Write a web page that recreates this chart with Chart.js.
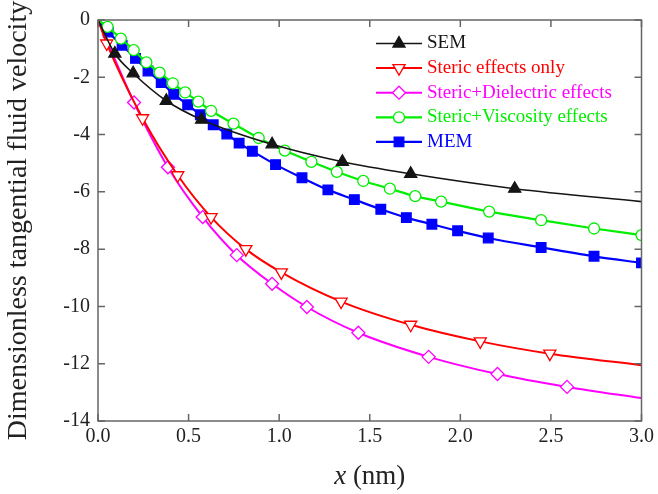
<!DOCTYPE html>
<html>
<head>
<meta charset="utf-8">
<script src="https://cdn.jsdelivr.net/npm/chart.js@4.4.1/dist/chart.umd.min.js"></script>
<style>
  html, body { margin: 0; padding: 0; background: #fff; }
  #wrap { width: 658px; height: 494px; }
</style>
</head>
<body>
<div id="wrap"><canvas id="chart" width="658" height="494"></canvas></div>
<script>
/* ---- data (x in nm, dimensionless velocity) ---- */
const semX = [0, 0.093, 0.194, 0.377, 0.572, 0.961, 1.349, 1.726, 2.300, 3.0];
const semY = [0, -1.17, -1.86, -2.82, -3.48, -4.34, -4.95, -5.37, -5.89, -6.34];

const stericX = [0, 0.048, 0.246, 0.440, 0.624, 0.816, 1.012, 1.342, 1.726, 2.110, 2.494, 3.0];
const stericY = [0, -0.82, -3.43, -5.42, -6.88, -8.00, -8.81, -9.83, -10.64, -11.22, -11.65, -12.05];

const dielX = [0, 0.199, 0.386, 0.578, 0.766, 0.961, 1.153, 1.437, 1.825, 2.205, 2.589, 3.0];
const dielY = [0, -2.88, -5.14, -6.88, -8.21, -9.21, -10.02, -10.92, -11.76, -12.36, -12.81, -13.20];

const viscX = [0, 0.053, 0.126, 0.197, 0.267, 0.340, 0.413, 0.481, 0.554, 0.624, 0.748, 0.887,
  1.031, 1.178, 1.318, 1.464, 1.611, 1.751, 1.894, 2.159, 2.446, 2.738, 3.0];
const viscY = [0, -0.24, -0.65, -1.05, -1.48, -1.84, -2.21, -2.53, -2.85, -3.17, -3.62, -4.12,
  -4.56, -4.95, -5.30, -5.62, -5.89, -6.15, -6.34, -6.69, -6.99, -7.28, -7.51];

const memX = [0, 0.056, 0.133, 0.207, 0.276, 0.349, 0.418, 0.495, 0.565, 0.636, 0.711, 0.779, 0.852,
  0.980, 1.126, 1.269, 1.415, 1.561, 1.702, 1.843, 1.985, 2.154, 2.446, 2.738, 3.0];
const memY = [0, -0.42, -0.88, -1.34, -1.78, -2.18, -2.59, -2.96, -3.31, -3.66, -3.98, -4.30, -4.58,
  -5.05, -5.51, -5.93, -6.27, -6.61, -6.90, -7.13, -7.36, -7.61, -7.94, -8.25, -8.48];

const xTicks = [0, 0.5, 1.0, 1.5, 2.0, 2.5, 3.0];
const yTicks = [0, -2, -4, -6, -8, -10, -12, -14];

const FONT = "'Liberation Serif', 'Times New Roman', serif";
Chart.defaults.font.family = FONT;

// series look: marker shape, fill and whether the last (x = 3) point carries a marker
const series = [
  { label: 'SEM', xs: semX, ys: semY, color: '#151515', fill: '#151515', style: 'triangle', rot: 0, r: 7, width: 1.6, endMark: false },
  { label: 'Steric effects only', xs: stericX, ys: stericY, color: '#ff0000', fill: '#ffffff', style: 'triangle', rot: 180, r: 7, width: 2, endMark: false },
  { label: 'Steric+Dielectric effects', xs: dielX, ys: dielY, color: '#ff00ff', fill: '#ffffff', style: 'rectRot', rot: 0, r: 6.5, width: 2, endMark: false },
  { label: 'Steric+Viscosity effects', xs: viscX, ys: viscY, color: '#00ee00', fill: '#ffffff', style: 'circle', rot: 0, r: 5.5, width: 2.2, endMark: true },
  { label: 'MEM', xs: memX, ys: memY, color: '#0000ff', fill: '#0000ff', style: 'rect', rot: 0, r: 6.8, width: 2.2, endMark: true },
];

function toPoints(xs, ys) { return xs.map((x, i) => ({ x, y: ys[i] })); }

function radii(s) {
  return s.xs.map((_, i) => (i === 0 || (!s.endMark && i === s.xs.length - 1)) ? 0 : s.r);
}

const datasets = series.map(s => ({
  label: s.label,
  data: toPoints(s.xs, s.ys),
  borderColor: s.color,
  borderWidth: s.width,
  pointStyle: s.style,
  pointRotation: s.rot,
  pointRadius: radii(s),
  pointBackgroundColor: s.fill,
  pointBorderColor: s.color,
  pointBorderWidth: 1.3,
  cubicInterpolationMode: 'monotone',
  clip: 0,
}));

// frame with inward ticks, legend with line+marker samples, mixed-style x title
const decorations = {
  id: 'decorations',
  afterDatasetsDraw(chart) {
    const { ctx, chartArea: a, scales: { x, y } } = chart;
    ctx.save();
    ctx.strokeStyle = '#666';
    ctx.lineWidth = 1.5;
    ctx.strokeRect(a.left, a.top, a.right - a.left, a.bottom - a.top);
    ctx.beginPath();
    xTicks.forEach(v => {
      const px = x.getPixelForValue(v);
      ctx.moveTo(px, a.bottom); ctx.lineTo(px, a.bottom - 7);
      ctx.moveTo(px, a.top); ctx.lineTo(px, a.top + 7);
    });
    yTicks.forEach(v => {
      const py = y.getPixelForValue(v);
      ctx.moveTo(a.left, py); ctx.lineTo(a.left + 7, py);
      ctx.moveTo(a.right, py); ctx.lineTo(a.right - 7, py);
    });
    ctx.stroke();
    ctx.restore();
  },
  afterDraw(chart) {
    const { ctx, chartArea: a } = chart;
    ctx.save();

    // legend
    let ly = 43.5;
    ctx.font = `19px ${FONT}`;
    ctx.textBaseline = 'middle';
    series.forEach(s => {
      ctx.strokeStyle = s.color;
      ctx.lineWidth = s.width;
      ctx.beginPath();
      ctx.moveTo(376, ly); ctx.lineTo(422, ly);
      ctx.stroke();
      ctx.fillStyle = s.fill;
      ctx.lineWidth = 1.3;
      Chart.helpers.drawPoint(ctx, { pointStyle: s.style, rotation: s.rot, radius: s.r, borderWidth: 1.3 }, 399, ly);
      ctx.fillStyle = s.color;
      ctx.fillText(s.label, 427, ly);
      ly += 24.6;
    });

    // x axis title: italic x + regular (nm)
    const cx = (a.left + a.right) / 2;
    ctx.fillStyle = '#222';
    ctx.textBaseline = 'alphabetic';
    ctx.font = `italic 27px ${FONT}`;
    const w1 = ctx.measureText('x').width;
    ctx.font = `27px ${FONT}`;
    const rest = ' (nm)';
    const w2 = ctx.measureText(rest).width;
    const x0 = cx - (w1 + w2) / 2;
    ctx.font = `italic 27px ${FONT}`;
    ctx.fillText('x', x0, 484);
    ctx.font = `27px ${FONT}`;
    ctx.fillText(rest, x0 + w1, 484);
    ctx.restore();
  }
};

new Chart(document.getElementById('chart'), {
  type: 'line',
  data: { datasets },
  options: {
    responsive: false,
    animation: false,
    layout: { padding: { top: 18, right: 13, left: 0, bottom: 0 } },
    plugins: { legend: { display: false }, tooltip: { enabled: false } },
    scales: {
      x: {
        type: 'linear', min: 0, max: 3,
        afterBuildTicks: s => { s.ticks = xTicks.map(v => ({ value: v })); },
        afterFit: s => { s.height = 73; },
        grid: { display: false, drawTicks: false },
        border: { display: false },
        ticks: { color: '#222', padding: 4, font: { family: FONT, size: 20 }, callback: v => v.toFixed(1) },
      },
      y: {
        type: 'linear', min: -14, max: 0,
        afterBuildTicks: s => { s.ticks = yTicks.map(v => ({ value: v })); },
        afterFit: s => { s.width = 98; },
        grid: { display: false, drawTicks: false },
        border: { display: false },
        ticks: { color: '#222', padding: 8, font: { family: FONT, size: 20 } },
        title: {
          display: true, text: 'Dimensionless tangential fluid velocity', color: '#222',
          font: { family: FONT, size: 28 }, padding: { top: 2, bottom: 0 },
        },
      },
    },
  },
  plugins: [decorations],
});
</script>
</body>
</html>
